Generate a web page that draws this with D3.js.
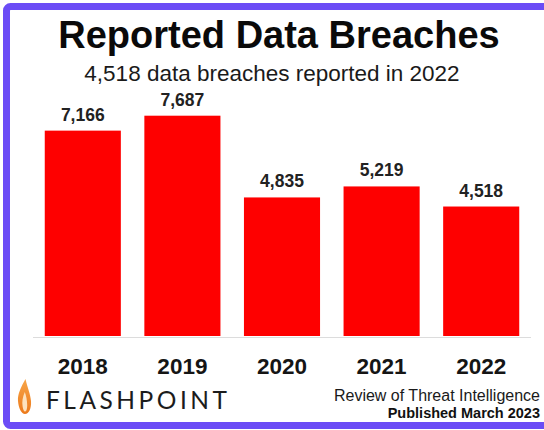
<!DOCTYPE html>
<html>
<head>
<meta charset="utf-8">
<script src="https://cdn.jsdelivr.net/npm/d3@7"></script>
<style>
  html, body { margin: 0; padding: 0; background: #fff; }
  text { font-family: "Liberation Sans", Arial, sans-serif; }
  .title { font-size: 38px; font-weight: bold; fill: #0a0a0a; }
  .subtitle { font-size: 22.5px; fill: #1a1a1a; }
  .value { font-size: 17.5px; font-weight: bold; fill: #222; }
  .year { font-size: 22.5px; font-weight: bold; fill: #151515; }
  .brand { font-family: Lato, "Open Sans", sans-serif; font-size: 24.5px; fill: #1c1c1c; }
  .note { font-size: 16px; fill: #1a1a1a; }
  .note-bold { font-size: 14.5px; font-weight: bold; fill: #111; }
</style>
</head>
<body>
<div class="canvas"></div>
<script>

var years = ["2018", "2019", "2020", "2021", "2022"];
var breaches = [7166, 7687, 4835, 5219, 4518];

var width = 544,
    height = 430;

var svg = d3.select(".canvas")
            .append("svg")
            .attr("width", width)
            .attr("height", height);

// FRAME

svg.append("rect")
   .attr("x", 6.5)
   .attr("y", 6.5)
   .attr("width", 600)
   .attr("height", 419)
   .attr("rx", 4)
   .attr("fill", "#fff")
   .attr("stroke", "#6b4cf6")
   .attr("stroke-width", 7);

// HEADER

svg.append("text")
   .attr("class", "title")
   .attr("x", 279)
   .attr("y", 48)
   .attr("text-anchor", "middle")
   .text("Reported Data Breaches");

svg.append("text")
   .attr("class", "subtitle")
   .attr("x", 272)
   .attr("y", 81)
   .attr("text-anchor", "middle")
   .text("4,518 data breaches reported in 2022");

// BARS

var x = d3.scaleBand()
          .domain(years)
          .range([33, 531])
          .paddingInner(0.236)
          .paddingOuter(0.118);

var y = d3.scaleLinear()
          .domain([0, 7687])
          .range([336, 115.7]);

var data = years.map(function(yr, i){
    return {year: yr, value: breaches[i]};
});

svg.append("line")
   .attr("x1", x.range()[0])
   .attr("x2", x.range()[1])
   .attr("y1", y(0) + 1.5)
   .attr("y2", y(0) + 1.5)
   .attr("stroke", "#dcdcdc")
   .attr("stroke-width", 1);

svg.selectAll(".bar")
   .data(data)
   .enter()
   .append("rect")
   .attr("class", "bar")
   .attr("x", function(d){ return x(d.year); })
   .attr("y", function(d){ return y(d.value); })
   .attr("width", x.bandwidth())
   .attr("height", function(d){ return y(0) - y(d.value); })
   .attr("fill", "#fe0000");

svg.selectAll(".value")
   .data(data)
   .enter()
   .append("text")
   .attr("class", "value")
   .attr("x", function(d){ return x(d.year) + x.bandwidth() / 2; })
   .attr("y", function(d){ return y(d.value) - 10; })
   .attr("text-anchor", "middle")
   .text(function(d){ return d3.format(",")(d.value); });

// YEAR AXIS

var axis = svg.append("g")
              .attr("transform", "translate(0," + y(0) + ")")
              .call(d3.axisBottom(x).tickSize(0).tickPadding(0));

axis.select(".domain").remove();

axis.selectAll("text")
    .attr("class", "year")
    .attr("dy", null)
    .attr("y", 38)
    .attr("fill", null);

axis.attr("font-family", null).attr("font-size", null);

// LOGO

var flame = svg.append("defs")
               .append("linearGradient")
               .attr("id", "flameGrad")
               .attr("x1", 0).attr("y1", 0)
               .attr("x2", 0).attr("y2", 1);

flame.append("stop").attr("offset", "0%").attr("stop-color", "#f7a548");
flame.append("stop").attr("offset", "100%").attr("stop-color", "#ec7a1c");

svg.append("path")
   .attr("d", "M25.5,379 C21,387 17.5,394 18,401 C18.5,408 21.5,414 25,414 C29,414 31.5,408 31,401 C30.5,394 27.5,388 25.5,379 Z")
   .attr("fill", "url(#flameGrad)");

svg.append("path")
   .attr("d", "M24.8,392 C22.6,397 21.8,402 22.6,406.5 C23.2,410 24,411.5 25,411.5 C26.2,411.5 27.2,409.5 27.2,405 C27.2,400.5 26.2,396 24.8,392 Z")
   .attr("fill", "#fde2bd");

svg.append("text")
   .attr("class", "brand")
   .attr("x", 46)
   .attr("y", 409)
   .attr("textLength", 181)
   .attr("lengthAdjust", "spacing")
   .text("FLASHPOINT");

// SOURCE NOTE

svg.append("text")
   .attr("class", "note")
   .attr("x", 540)
   .attr("y", 401)
   .attr("text-anchor", "end")
   .text("Review of Threat Intelligence");

svg.append("text")
   .attr("class", "note-bold")
   .attr("x", 540)
   .attr("y", 418)
   .attr("text-anchor", "end")
   .text("Published March 2023");

</script>
</body>
</html>
